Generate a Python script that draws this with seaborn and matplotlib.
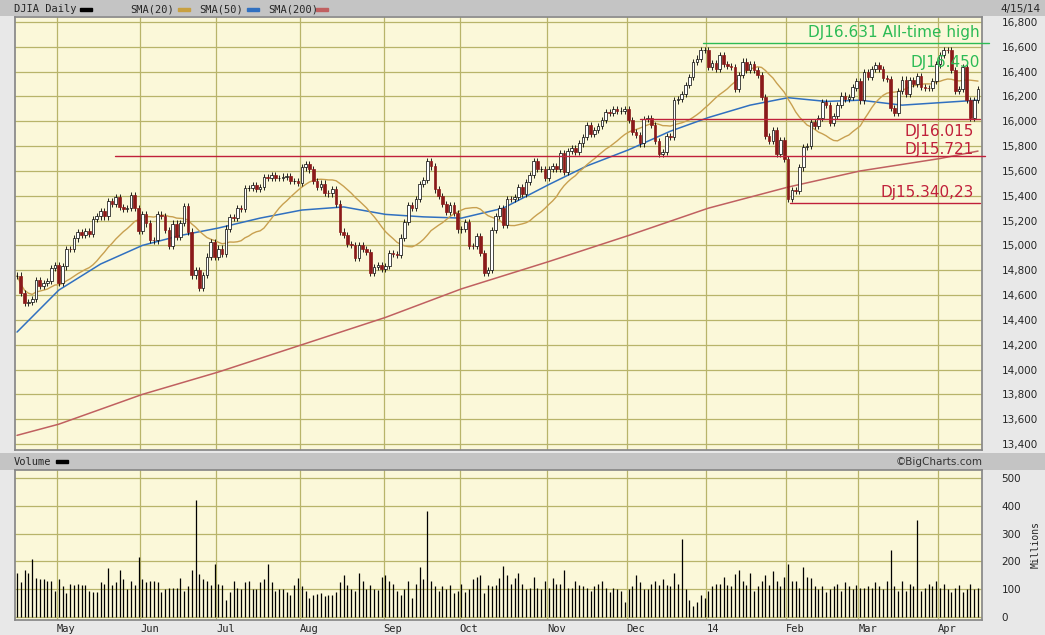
import numpy as np
import pandas as pd
import matplotlib
matplotlib.use("Agg")
import matplotlib.pyplot as plt
import seaborn as sns

closes = [
 # Apr 2013
 14757,14619,14537,14547,14568,14719,14676,14700,14712,14818,14839,
 # May
 14700,14831,14973,14969,15056,15105,15082,15118,15091,15215,15233,15275,15233,15354,15335,15387,15307,15294,15303,15409,15303,15116,
 # Jun
 15254,15177,15041,15040,15249,15238,15122,14995,15176,15070,15180,15318,15112,14758,14800,14659,14760,14910,15025,14910,
 # Jul
 14975,14932,15136,15225,15224,15300,15291,15460,15464,15484,15452,15470,15548,15543,15568,15542,15546,15555,15558,15521,15521,15500,
 # Aug
 15628,15658,15612,15518,15470,15498,15425,15419,15451,15337,15112,15081,15010,15002,14897,15002,14969,14946,14777,14824,14840,14810,
 # Sep
 14833,14937,14930,14922,15063,15191,15326,15300,15376,15494,15529,15676,15636,15451,15401,15334,15273,15328,15258,15129,
 # Oct
 15133,15191,14997,14996,15073,14936,14776,14802,15126,15237,15301,15168,15373,15372,15392,15467,15413,15509,15570,15680,15618,15618,15546,
 # Nov
 15615,15639,15618,15747,15594,15761,15783,15751,15821,15876,15967,15900,15932,15963,16010,16073,16064,16097,16086,16086,16101,
 # Dec
 16008,15914,15889,15821,16020,16025,15973,15843,15739,15755,15884,15875,16168,16179,16222,16295,16358,16479,16505,16577,16577,
 # Jan 2014
 16441,16470,16425,16531,16463,16444,16437,16257,16374,16481,16417,16459,16415,16373,16197,15879,15838,15928,15739,15849,15699,
 # Feb
 15373,15445,15441,15628,15794,15802,15994,15963,16027,16154,16130,15988,16040,16133,16207,16179,16198,16272,16322,
 # Mar
 16168,16395,16360,16421,16453,16418,16351,16340,16108,16065,16247,16336,16222,16331,16302,16367,16276,16268,16265,16324,16458,
 # Apr
 16532,16573,16572,16412,16245,16257,16437,16170,16027,16174,16262,
]

volumes = [
 # Apr
 160,125,170,160,210,140,135,135,130,128,95,
 # May
 135,110,85,120,115,118,115,115,95,90,90,125,120,175,115,125,170,135,100,130,115,215,
 # Jun
 135,125,130,130,125,90,100,103,103,105,140,95,110,170,420,155,135,130,115,190,
 # Jul
 120,115,60,90,130,105,100,125,130,100,102,125,135,190,125,95,100,100,90,80,115,140,
 # Aug
 110,95,70,80,82,85,75,78,80,90,125,150,115,100,95,160,130,100,115,100,98,145,
 # Sep
 150,130,120,95,80,100,130,70,120,180,135,380,130,110,95,110,100,115,85,95,
 # Oct
 120,90,100,135,145,150,85,115,110,115,140,185,150,120,140,160,120,100,105,145,105,100,130,
 # Nov
 105,140,120,120,170,105,105,130,115,110,105,95,110,120,130,105,90,105,100,95,55,
 # Dec
 100,110,150,125,100,100,120,130,115,135,115,110,160,120,280,100,60,40,55,80,70,
 # Jan
 95,110,120,120,145,115,110,155,170,130,115,160,95,110,130,150,115,165,130,110,145,
 # Feb
 190,130,130,105,180,145,140,110,100,110,90,100,110,120,95,125,110,100,115,
 # Mar
 105,105,110,105,125,110,100,130,240,110,95,130,95,120,110,350,95,105,120,110,130,
 # Apr
 105,120,100,90,105,115,90,100,120,100,105,
]

month_labels = ["May","Jun","Jul","Aug","Sep","Oct","Nov","Dec","14","Feb","Mar","Apr"]
month_idx = [11,33,53,75,97,117,140,161,182,203,222,243]

sma50_idx = [0,11,22,33,43,53,64,75,86,97,107,117,128,140,150,161,172,182,193,203,213,222,233,243,253]
sma50_val = [14302,14640,14850,15000,15080,15140,15220,15285,15310,15250,15230,15220,15300,15490,15640,15770,15920,16030,16130,16190,16160,16170,16130,16150,16170]
sma200_idx = [0,11,33,53,75,97,117,140,161,182,203,222,243,253]
sma200_val = [13470,13560,13800,13980,14200,14420,14650,14870,15080,15300,15470,15600,15700,15760]

lvl_green = 16631
lvl_red = [16015, 15721, 15340.23]

sns.set_theme(style="white")
plt.rcParams['font.family'] = ['DejaVu Sans']

BG = "#fbf8d9"; GRID = "#b8b46a"; OUT = "#e8e8e8"; BAR = "#c4c4c4"
fig = plt.figure(figsize=(10.45, 6.35), dpi=100, facecolor=OUT)
W, H = 1045, 635
def ax_at(l, t, r, b):
    return fig.add_axes([l/W, 1-b/H, (r-l)/W, (b-t)/H])

for (t, b) in [(0, 16), (453, 470)]:
    hb = ax_at(0, t, W, b); hb.set_facecolor(BAR); hb.set_xticks([]); hb.set_yticks([])
    for s in hb.spines.values(): s.set_visible(False)
fig.text(14/W, 1-9/H, "DJIA Daily", fontsize=7.5, family="DejaVu Sans Mono", va="center")
fig.text(1-4/W, 1-9/H, "4/15/14", fontsize=7.5, ha="right", va="center")
legend = [("SMA(20)", "#c8a040", 130), ("SMA(50)", "#3070c0", 199), ("SMA(200)", "#c06060", 268)]
fig.patches.append(plt.Rectangle((80/W, 1-11/H), 12/W, 3/H, color="black", transform=fig.transFigure))
for name, col, xx in legend:
    fig.text(xx/W, 1-9/H, name, fontsize=7.5, family="DejaVu Sans Mono", va="center")
    fig.patches.append(plt.Rectangle(((xx+48)/W, 1-11/H), 12/W, 3/H, color=col, transform=fig.transFigure))
fig.text(14/W, 1-462/H, "Volume", fontsize=7.5, family="DejaVu Sans Mono", va="center")
fig.patches.append(plt.Rectangle((56/W, 1-463/H), 12/W, 3/H, color="black", transform=fig.transFigure))
fig.text(1-62/W, 1-462/H, "©BigCharts.com", fontsize=7.5, ha="right", va="center", color="#333")

n = len(closes)
x = np.arange(n)
c = np.array(closes, float)
o = np.concatenate([[c[0]], c[:-1]])
hi = np.maximum(o, c) + 25
lo = np.minimum(o, c) - 25
df = pd.DataFrame({"i": x, "close": c})
df["sma20"] = df["close"].rolling(20, min_periods=1).mean()

ax = ax_at(15, 17, 982, 450)
ax.set_facecolor(BG)

sns.lineplot(x=sma200_idx, y=sma200_val, ax=ax, color="#c06060", lw=1.1)
sns.lineplot(x=sma50_idx, y=sma50_val, ax=ax, color="#3070c0", lw=1.1)
sns.lineplot(data=df, x="i", y="sma20", ax=ax, color="#c8a050", lw=1.0)
ax.set_xlabel(""); ax.set_ylabel("")

ax.set_xlim(-0.53, 254.05)
ax.set_ylim(13352, 16840)
ax.set_yticks(range(13400, 16801, 200))
ax.set_yticklabels([f"{v:,}" for v in range(13400, 16801, 200)])
ax.yaxis.tick_right()
ax.tick_params(axis="y", labelsize=7.5, length=0, pad=14)
ax.set_xticks([m - 0.5 for m in month_idx]); ax.set_xticklabels([])
ax.tick_params(axis="x", length=0)
ax.grid(True, color=GRID, lw=0.9)
for s in ax.spines.values(): s.set_color("#888")

up = c >= o
ax.vlines(x, lo, hi, color="black", lw=0.6, zorder=3)
ax.bar(x[up], (c - o)[up] + 0.1, bottom=o[up], width=0.7, facecolor="white", edgecolor="black", lw=0.5, zorder=4)
ax.bar(x[~up], (o - c)[~up], bottom=c[~up], width=0.7, facecolor="#8b1a1a", edgecolor="#8b1a1a", lw=0.5, zorder=4)

GREEN = "#2cbb55"; RED = "#c0203a"
ax.plot([180.5, 256], [lvl_green]*2, color=GREEN, lw=1, clip_on=False, zorder=5)
ax.text(253.4, 16712, "DJ16.631 All-time high", color=GREEN, fontsize=11, ha="right", va="center", zorder=7)
ax.text(253.4, 16470, "DJ16.450", color=GREEN, fontsize=11, ha="right", va="center", zorder=7)
ax.plot([164, 253.6], [lvl_red[0]]*2, color=RED, lw=1, zorder=5)
ax.plot([25.8, 254.9], [lvl_red[1]]*2, color=RED, lw=1, clip_on=False, zorder=5)
ax.plot([203.4, 253.6], [lvl_red[2]]*2, color=RED, lw=1, zorder=5)
ax.text(252, 15915, "DJ16.015", color=RED, fontsize=11, ha="right", va="center", zorder=7)
ax.text(252, 15775, "DJ15.721", color=RED, fontsize=11, ha="right", va="center", zorder=7)
ax.text(252, 15430, "Dj15.340,23", color=RED, fontsize=11, ha="right", va="center", zorder=7)

av = ax_at(15, 470, 982, 620)
av.set_facecolor(BG)
av.vlines(x, 0, volumes, color="black", lw=0.9)
av.set_xlim(-0.53, 254.05)
av.set_ylim(-10.8, 529)
av.set_yticks(range(0, 501, 100))
av.yaxis.tick_right()
av.tick_params(axis="y", labelsize=7.5, length=0, pad=14)
av.set_xticks([m - 0.5 for m in month_idx])
av.set_xticklabels(month_labels, fontsize=7.5, family="DejaVu Sans Mono")
av.tick_params(axis="x", length=0, pad=3)
for t in av.get_xticklabels(): t.set_horizontalalignment("left")
av.grid(True, color=GRID, lw=0.9)
for s in av.spines.values(): s.set_color("#888")
av.set_ylabel("Millions", fontsize=7, family="DejaVu Sans Mono", rotation=90)
av.yaxis.set_label_position("right")
av.yaxis.set_label_coords(1.05, 0.5)

fig.savefig("out.png", dpi=100, facecolor=OUT)
